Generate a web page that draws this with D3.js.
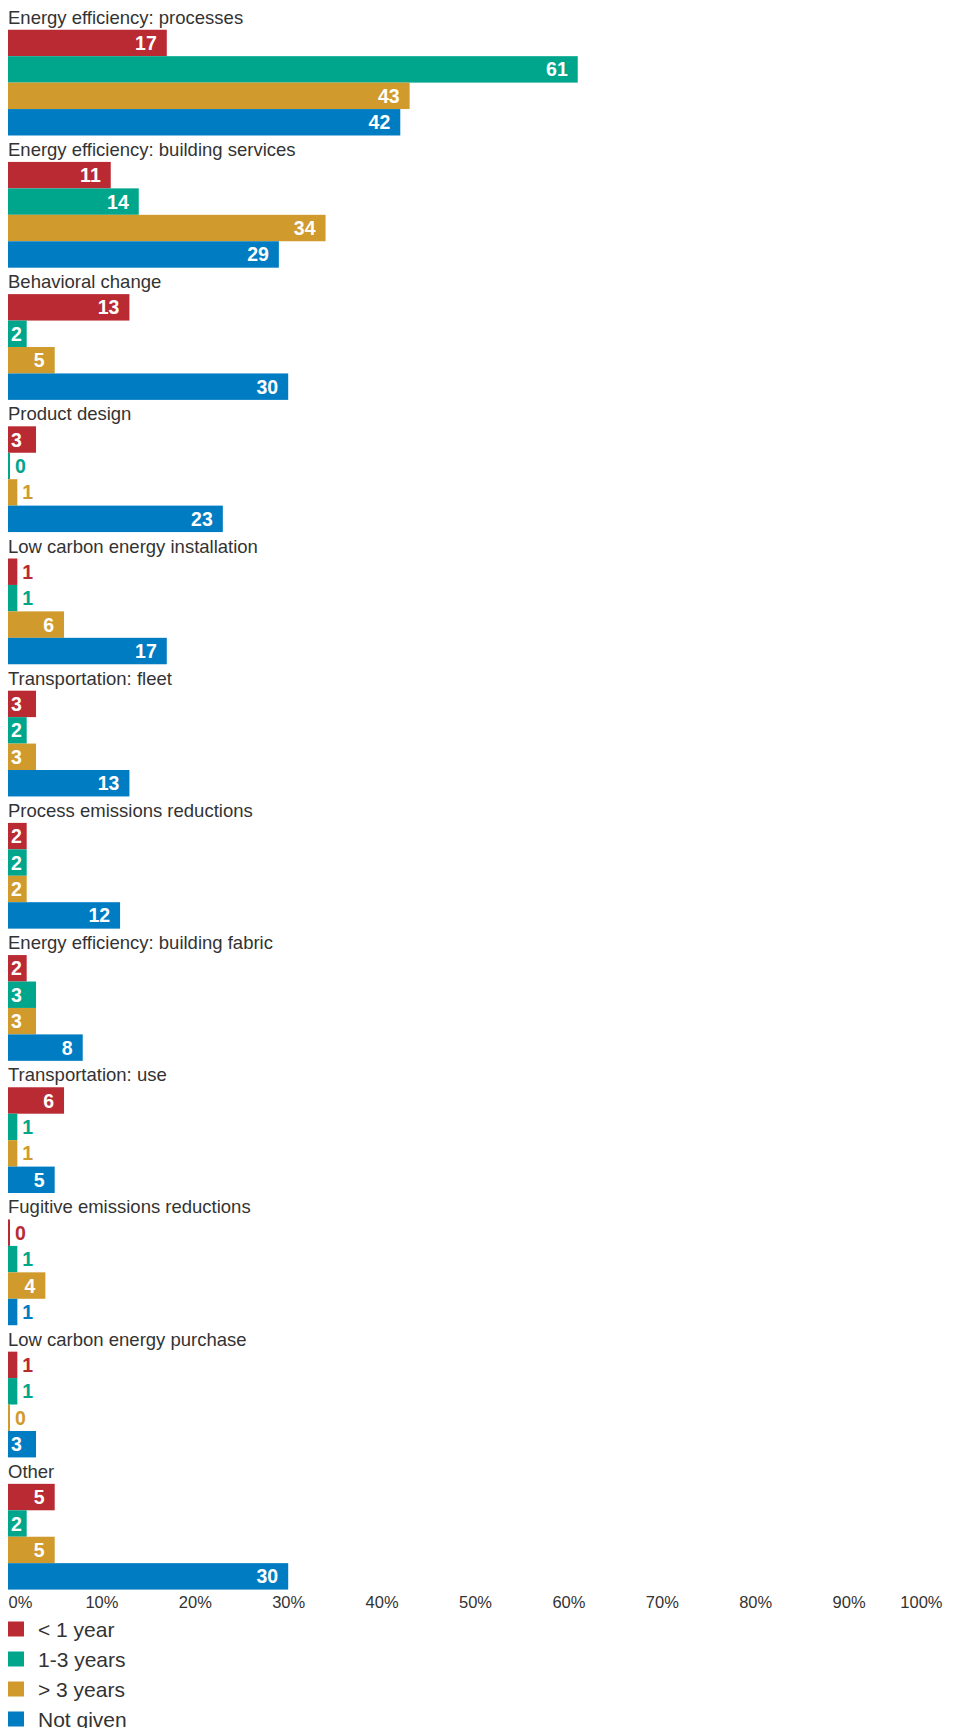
<!DOCTYPE html>
<html>
<head>
<meta charset="utf-8">
<script src="https://cdn.jsdelivr.net/npm/d3@7"></script>
<style>
  html, body { margin: 0; padding: 0; background: #fff; }
  svg { display: block; font-family: "Liberation Sans", Arial, Helvetica, sans-serif; }
</style>
</head>
<body>
<svg id="chart" width="954" height="1728"></svg>
<script>
// Measures by category, share of respondents (%) per payback period
const categories = [
  "Energy efficiency: processes",
  "Energy efficiency: building services",
  "Behavioral change",
  "Product design",
  "Low carbon energy installation",
  "Transportation: fleet",
  "Process emissions reductions",
  "Energy efficiency: building fabric",
  "Transportation: use",
  "Fugitive emissions reductions",
  "Low carbon energy purchase",
  "Other"
];
const seriesNames = ["< 1 year", "1-3 years", "> 3 years", "Not given"];
const lessThanOneYear = [17, 11, 13, 3, 1, 3, 2, 2, 6, 0, 1, 5];
const oneToThreeYears = [61, 14, 2, 0, 1, 2, 2, 3, 1, 1, 1, 2];
const moreThanThreeYears = [43, 34, 5, 1, 6, 3, 2, 3, 1, 4, 0, 5];
const notGiven = [42, 29, 30, 23, 17, 13, 12, 8, 5, 1, 3, 30];
const tickValues = [0, 10, 20, 30, 40, 50, 60, 70, 80, 90, 100];
const seriesColors = ["#b92a33", "#00a68c", "#d09b2c", "#007cc2"];

const seriesValues = [lessThanOneYear, oneToThreeYears, moreThanThreeYears, notGiven];

const svg = d3.select("#chart");

const x = d3.scaleLinear().domain([0, 100]).range([8, 942]);
const yGroup = d3.scaleBand().domain(categories).range([3.3, 1589.6]).paddingInner(0);
const yRow = d3.scaleBand().domain(["label"].concat(seriesNames)).range([0, yGroup.bandwidth()]);
const color = d3.scaleOrdinal().domain(seriesNames).range(seriesColors);

const groups = svg.append("g").selectAll("g.category")
  .data(categories)
  .join("g")
  .attr("class", "category")
  .attr("transform", d => `translate(0,${yGroup(d)})`);

// Category titles
groups.append("text")
  .attr("x", 8)
  .attr("y", yRow("label") + yRow.bandwidth() - 6)
  .attr("fill", "#333")
  .style("font-size", "18.5px")
  .text(d => d);

const minBar = 2;

groups.each(function (cat, ci) {
  const g = d3.select(this);
  seriesNames.forEach((s, si) => {
    const v = seriesValues[si][ci];
    const y0 = yRow(s);
    const h = yRow.bandwidth();
    const w = Math.max(x(v) - x(0), minBar);
    g.append("rect")
      .attr("x", x(0))
      .attr("y", y0)
      .attr("width", w)
      .attr("height", h)
      .attr("fill", color(s));

    const label = g.append("text")
      .attr("y", y0 + h / 2)
      .attr("dy", "0.36em")
      .style("font-size", "19.5px")
      .style("font-weight", "bold")
      .text(v);
    const tw = label.node().getComputedTextLength();
    const barEnd = x(0) + w;
    if (tw + 20 <= w) {
      label.attr("x", barEnd - 10).attr("text-anchor", "end").attr("fill", "#fff");
    } else if (tw + 6 <= w) {
      label.attr("x", x(0) + 3).attr("text-anchor", "start").attr("fill", "#fff");
    } else {
      label.attr("x", barEnd + 5).attr("text-anchor", "start").attr("fill", color(s));
    }
  });
});

// Percentage axis
const axis = svg.append("g")
  .attr("transform", "translate(0,1596)")
  .call(d3.axisBottom(x).tickValues(tickValues).tickSize(0).tickPadding(0).tickFormat(d => d + "%"));
axis.select(".domain").remove();
axis.selectAll("text")
  .attr("fill", "#333")
  .attr("dy", "0.71em")
  .style("font-size", "16.5px")
  .style("font-family", "\"Liberation Sans\", Arial, sans-serif");
axis.selectAll(".tick").filter(d => d === 0).select("text").attr("text-anchor", "start").attr("x", 0);
axis.selectAll(".tick").filter(d => d === 100).select("text").attr("text-anchor", "end").attr("x", 0);

// Legend
const legend = svg.append("g").selectAll("g")
  .data(seriesNames)
  .join("g")
  .attr("transform", (d, i) => `translate(8,${1629 + i * 30})`);
legend.append("rect")
  .attr("x", 0)
  .attr("y", -7.5)
  .attr("width", 16)
  .attr("height", 15)
  .attr("fill", d => color(d));
legend.append("text")
  .attr("x", 30)
  .attr("dy", "0.36em")
  .attr("fill", "#333")
  .style("font-size", "21px")
  .text(d => d);
</script>
</body>
</html>
